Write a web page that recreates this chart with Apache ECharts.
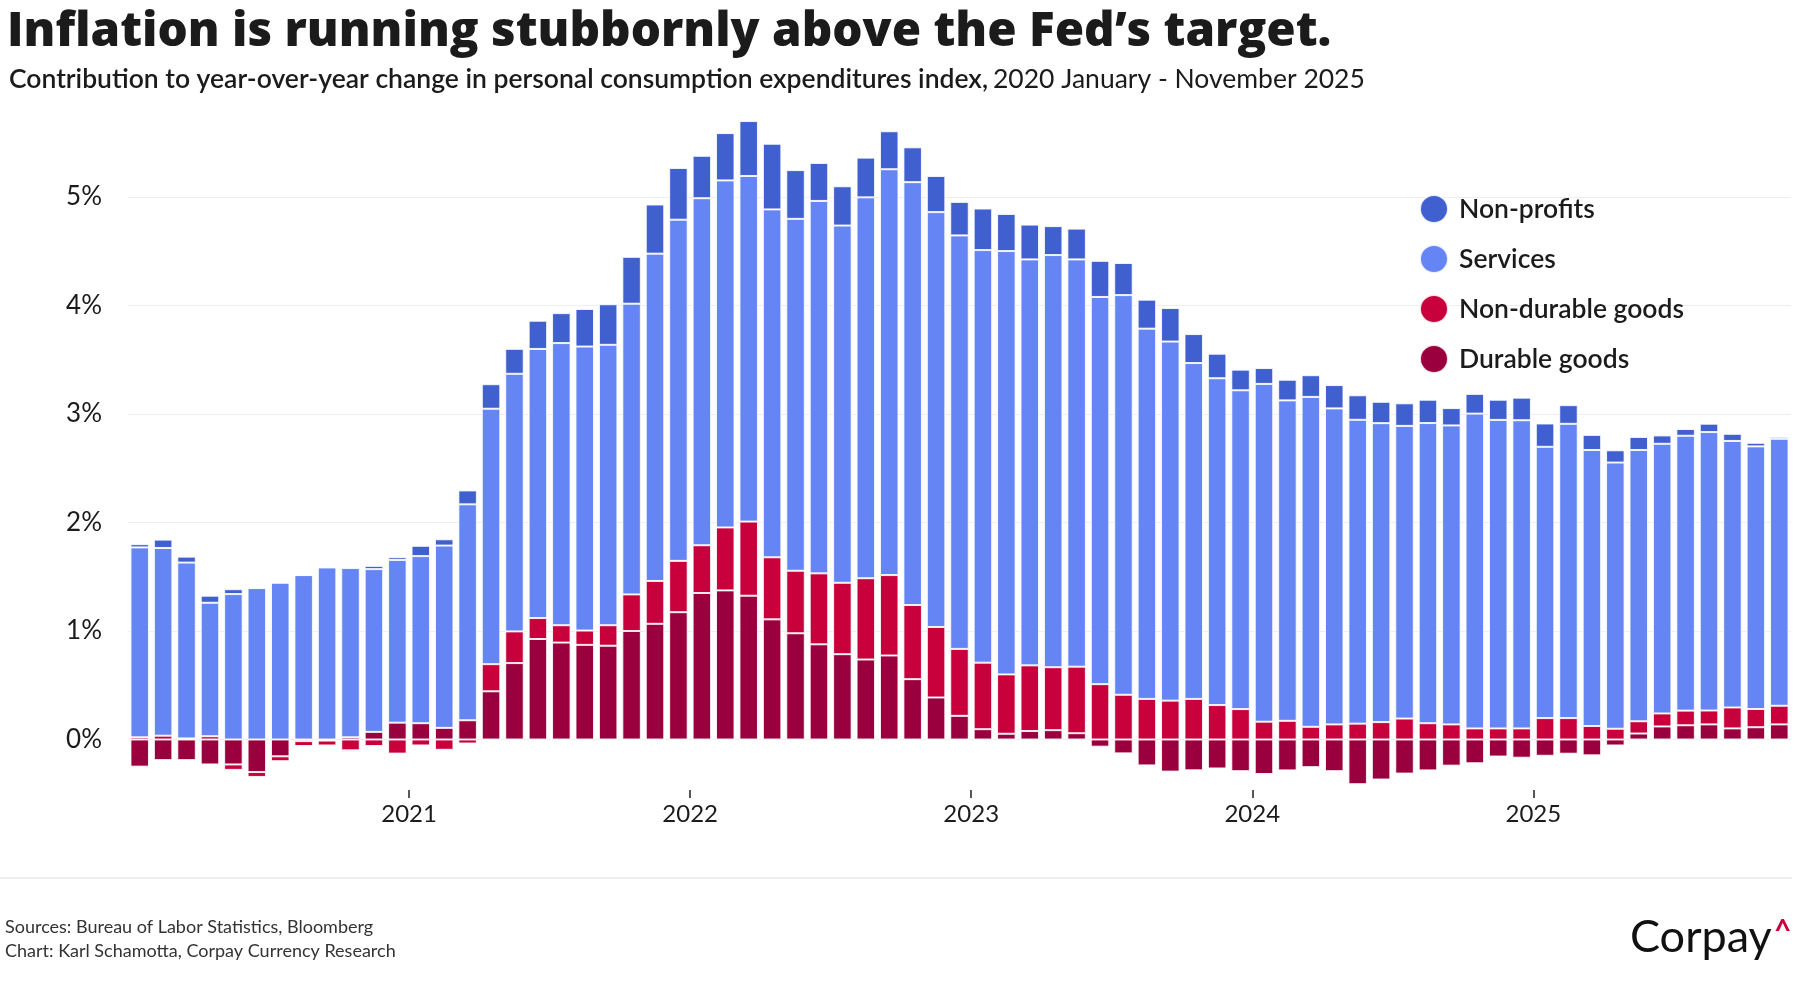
<!DOCTYPE html>
<html>
<head>
<meta charset="utf-8">
<script src="https://cdn.jsdelivr.net/npm/echarts@6/dist/echarts.min.js"></script>
<style>
html,body{margin:0;padding:0;background:#fff;}
#chart{width:1795px;height:1000px;}
</style>
</head>
<body>
<div id="chart"></div>
<script>
// ---- Data (percentage-point contributions) ----
const startYear = 2020;
const monthCount = 71; // Jan 2020 - Nov 2025
const yearTickLabels = ['2021', '2022', '2023', '2024', '2025'];

const durableGoods = [
  -0.25, -0.19, -0.19, -0.23, -0.23, -0.30, -0.155, -0.015, -0.01, 0.02, 0.07, 0.155,
  0.15, 0.107, 0.177, 0.444, 0.704, 0.926, 0.893, 0.872, 0.864, 1.0, 1.066, 1.173,
  1.35, 1.374, 1.325, 1.107, 0.979, 0.877, 0.786, 0.737, 0.774, 0.556, 0.387, 0.218,
  0.095, 0.053, 0.078, 0.086, 0.058, -0.066, -0.128, -0.239, -0.296, -0.284, -0.267, -0.292,
  -0.318, -0.285, -0.255, -0.292, -0.412, -0.369, -0.314, -0.285, -0.241, -0.219, -0.157, -0.168,
  -0.15, -0.131, -0.146, -0.055, 0.055, 0.12, 0.131, 0.139, 0.102, 0.113, 0.139
];
const nonDurableGoods = [
  0.02, 0.035, 0.01, 0.03, -0.05, -0.045, -0.045, -0.045, -0.045, -0.10, -0.06, -0.13,
  -0.055, -0.095, -0.037, 0.25, 0.292, 0.193, 0.16, 0.132, 0.189, 0.337, 0.395, 0.473,
  0.44, 0.58, 0.683, 0.572, 0.576, 0.654, 0.658, 0.749, 0.741, 0.683, 0.65, 0.617,
  0.613, 0.547, 0.605, 0.58, 0.613, 0.51, 0.412, 0.374, 0.358, 0.374, 0.317, 0.28,
  0.164, 0.172, 0.117, 0.139, 0.146, 0.16, 0.193, 0.15, 0.139, 0.102, 0.102, 0.102,
  0.197, 0.197, 0.124, 0.099, 0.113, 0.12, 0.135, 0.128, 0.193, 0.168, 0.172
];
const services = [
  1.75, 1.73, 1.62, 1.23, 1.34, 1.395, 1.445, 1.515, 1.585, 1.56, 1.50, 1.50,
  1.54, 1.68, 1.99, 2.354, 2.374, 2.48, 2.60, 2.617, 2.584, 2.679, 3.016, 3.144,
  3.198, 3.198, 3.185, 3.206, 3.243, 3.432, 3.292, 3.51, 3.74, 3.897, 3.823, 3.81,
  3.802, 3.901, 3.741, 3.798, 3.753, 3.568, 3.683, 3.412, 3.309, 3.095, 3.012, 2.938,
  3.113, 2.953, 3.04, 2.912, 2.80, 2.755, 2.697, 2.766, 2.755, 2.901, 2.843, 2.84,
  2.50, 2.712, 2.544, 2.453, 2.50, 2.485, 2.533, 2.566, 2.456, 2.42, 2.46
];
const nonProfits = [
  0.03, 0.077, 0.055, 0.065, 0.045, 0.005, 0, 0, 0.01, -0.015, 0.03, 0.025,
  0.095, 0.058, 0.128, 0.226, 0.23, 0.26, 0.276, 0.346, 0.374, 0.432, 0.453, 0.477,
  0.391, 0.436, 0.506, 0.605, 0.449, 0.35, 0.362, 0.366, 0.35, 0.321, 0.333, 0.309,
  0.383, 0.342, 0.321, 0.267, 0.284, 0.333, 0.296, 0.267, 0.309, 0.267, 0.226, 0.19,
  0.146, 0.19, 0.20, 0.215, 0.226, 0.197, 0.208, 0.215, 0.16, 0.182, 0.186, 0.208,
  0.215, 0.172, 0.139, 0.113, 0.12, 0.077, 0.062, 0.077, 0.066, 0.033, 0.018
];

// ---- Categories ----
const months = [];
for (let i = 0; i < monthCount; i++) {
  const y = startYear + Math.floor(i / 12);
  const m = (i % 12) + 1;
  months.push(y + '-' + (m < 10 ? '0' + m : m));
}
// boundary categories (month starts) for the year ticks
const boundaries = [];
for (let i = 0; i <= monthCount; i++) {
  const y = startYear + Math.floor(i / 12);
  boundaries.push(i % 12 === 0 && yearTickLabels.indexOf(String(y)) >= 0 ? String(y) : '');
}

const FONT = 'Lato, "Noto Sans", sans-serif';
const TITLE_FONT = '"Open Sans", Lato, sans-serif';
const TEXT = '#1b1b1b';
const C_NONPROFIT = '#4060CF';
const C_SERVICES = '#6485F3';
const C_NONDUR = '#C8003C';
const C_DUR = '#9A003E';

function barSeries(name, data, color) {
  return {
    name: name,
    type: 'bar',
    stack: 'pce',
    xAxisIndex: 0,
    data: data,
    barCategoryGap: '21%',
    itemStyle: { color: color, borderColor: 'rgba(255,255,255,0.85)', borderWidth: 1 },
    emphasis: { disabled: true }
  };
}

const chart = echarts.init(document.getElementById('chart'), null, { renderer: 'canvas' });
chart.setOption({
  animation: false,
  backgroundColor: '#ffffff',
  title: [
    {
      text: 'Inflation is running stubbornly above the Fed’s target.',
      left: 2, top: 3,
      textStyle: { fontFamily: TITLE_FONT, fontWeight: 800, fontSize: 47.6, color: TEXT }
    },
    {
      text: '{a|Contribution to year-over-year change in personal consumption expenditures index,} {b|2020 January - November 2025}',
      left: 4, top: 61,
      textStyle: {
        rich: {
          a: { fontFamily: FONT, fontWeight: 600, fontSize: 26.5, color: TEXT },
          b: { fontFamily: FONT, fontWeight: 400, fontSize: 26.5, color: TEXT }
        }
      }
    }
  ],
  legend: {
    data: ['Non-profits', 'Services', 'Non-durable goods', 'Durable goods'],
    orient: 'vertical',
    left: 1419, top: 194,
    icon: 'circle',
    itemWidth: 28, itemHeight: 28, itemGap: 20,
    padding: 0,
    selectedMode: false,
    textStyle: { fontFamily: FONT, fontWeight: 600, fontSize: 26.5, color: TEXT, padding: [0, 0, 0, 6] }
  },
  grid: { left: 128, right: 4, top: 88.4, bottom: 152, containLabel: false },
  xAxis: [
    {
      type: 'category', data: months,
      axisLine: { show: false }, axisTick: { show: false }, axisLabel: { show: false },
      splitLine: { show: false }
    },
    {
      type: 'category', data: boundaries, boundaryGap: false,
      position: 'bottom', offset: -58,
      axisLine: { show: false },
      axisTick: {
        show: true, length: 8,
        interval: function (i) { return boundaries[i] !== ''; },
        lineStyle: { color: '#222', width: 1.5 }
      },
      axisLabel: {
        interval: function (i) { return boundaries[i] !== ''; },
        margin: 12,
        fontFamily: FONT, fontSize: 24, color: TEXT
      },
      splitLine: { show: false }
    }
  ],
  yAxis: {
    type: 'value', min: -1, max: 6, interval: 1,
    axisLine: { show: false }, axisTick: { show: false },
    axisLabel: {
      margin: 26, fontFamily: FONT, fontSize: 26, color: TEXT,
      formatter: function (v) { return (v < 0 || v > 5) ? '' : v + '%'; }
    },
    splitLine: { show: true, showMinLine: false, showMaxLine: false, lineStyle: { color: '#eeeeee', width: 1 } }
  },
  series: [
    barSeries('Durable goods', durableGoods, C_DUR),
    barSeries('Non-durable goods', nonDurableGoods, C_NONDUR),
    barSeries('Services', services, C_SERVICES),
    barSeries('Non-profits', nonProfits, C_NONPROFIT)
  ],
  graphic: [
    { type: 'line', shape: { x1: 0, y1: 878, x2: 1792, y2: 878 }, style: { stroke: '#dddddd', lineWidth: 1 }, silent: true },
    { type: 'text', left: 5, top: 918, style: { text: 'Sources: Bureau of Labor Statistics, Bloomberg', font: '400 18px ' + FONT, fill: '#333' } },
    { type: 'text', left: 5, top: 942, style: { text: 'Chart: Karl Schamotta, Corpay Currency Research', font: '400 18px ' + FONT, fill: '#333' } },
    { type: 'text', left: 1630, top: 915, style: { text: 'Corpay', font: '400 45px ' + FONT, fill: '#111' } },
    { type: 'text', left: 1774, top: 916, style: { text: '^', font: '700 30px ' + FONT, fill: '#C8003C' } }
  ]
});
</script>
</body>
</html>
